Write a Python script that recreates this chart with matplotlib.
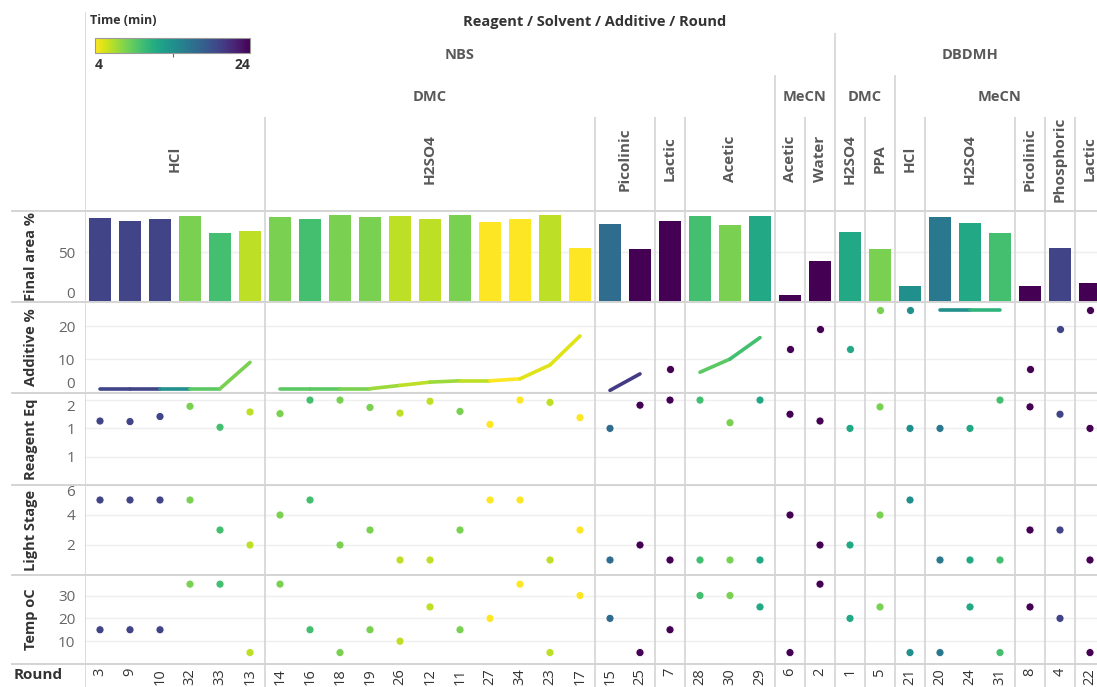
import itertools

import matplotlib
matplotlib.use("Agg")
import matplotlib.pyplot as plt
import numpy as np
from matplotlib.cm import ScalarMappable
from matplotlib.collections import LineCollection
from matplotlib.colors import Normalize
from matplotlib.lines import Line2D
from matplotlib.ticker import FuncFormatter

plt.rcParams["font.family"] = ["Open Sans", "DejaVu Sans"]

# 数据：每列一个 Round，按图中从左到右的顺序
rounds = [3, 9, 10, 32, 33, 13, 14, 16, 18, 19, 26, 12, 11, 27, 34, 23, 17,
          15, 25, 7, 28, 30, 29, 6, 2, 1, 5, 21, 20, 24, 31, 8, 4, 22]
reagents = ["NBS"] * 25 + ["DBDMH"] * 9
solvents = ["DMC"] * 23 + ["MeCN"] * 2 + ["DMC"] * 2 + ["MeCN"] * 7
additives = (["HCl"] * 6 + ["H2SO4"] * 11 + ["Picolinic"] * 2 + ["Lactic"] + ["Acetic"] * 3
             + ["Acetic", "Water", "H2SO4", "PPA", "HCl"] + ["H2SO4"] * 3
             + ["Picolinic", "Phosphoric", "Lactic"])
time_min = [20, 20, 20, 8, 10, 6, 8, 10, 8, 8, 6, 6, 8, 4, 4, 6, 4,
            17, 24, 24, 10, 8, 12, 24, 24, 12, 8, 14, 16, 12, 10, 24, 20, 24]
final_area = [84, 81, 83, 86, 69, 71, 85, 83, 87, 85, 86, 83, 87, 80, 83, 87, 54,
              78, 53, 81, 86, 77, 86, 7, 41, 70, 53, 16, 85, 79, 69, 16, 54, 19]
additive_pct = [1, 1, 1, 1, 1, 9, 1, 1, 1, 1, 2, 3, 3.4, 3.4, 4, 8.2, 17,
                0.5, 5.5, 7, 6, 10, 16.5, 13, 19, 13, 25, 25, 25, 25, 25, 7, 19, 25]
reagent_eq = [1.13, 1.12, 1.21, 1.39, 1.02, 1.29, 1.26, 1.5, 1.5, 1.37, 1.27, 1.48, 1.3,
              1.07, 1.5, 1.46, 1.19, 1.0, 1.41, 1.5, 1.5, 1.1, 1.5, 1.25, 1.13, 1.0, 1.38,
              1.0, 1.0, 1.0, 1.5, 1.38, 1.25, 1.0]
light_stage = [5, 5, 5, 5, 3, 2, 4, 5, 2, 3, 1, 1, 3, 5, 5, 1, 3,
               1, 2, 1, 1, 1, 1, 4, 2, 2, 4, 5, 1, 1, 1, 3, 3, 1]
temp_c = [15, 15, 15, 35, 35, 5, 35, 15, 5, 15, 10, 25, 15, 20, 35, 5, 30,
          20, 5, 15, 30, 30, 25, 5, 35, 20, 25, 5, 5, 25, 5, 25, 20, 5]

W, H = 1097, 687
X0, X1 = 85, 1105          # 面板左右边界（右侧列被截掉一部分）
SEP = "#d4d4d4"
GRID = "#efefef"
cmap = plt.get_cmap("viridis_r")
norm = Normalize(4, 24)

n = len(rounds)
xs = np.arange(n)
colors = [cmap(norm(t)) for t in time_min]

fig = plt.figure(figsize=(W / 100, H / 100), dpi=100)


def add_ax(top, bottom):
    ax = fig.add_axes([X0 / W, 1 - bottom / H, (X1 - X0) / W, (bottom - top) / H])
    ax.set_xlim(-0.5, n - 0.5)
    ax.patch.set_visible(False)
    for s in ax.spines.values():
        s.set_visible(False)
    return ax


# 分组边界：0=Reagent 1=Solvent 2=Additive
keys = list(zip(reagents, solvents, additives))
bounds = []
for i in range(1, n):
    if reagents[i] != reagents[i - 1]:
        bounds.append((i - 0.5, 0))
    elif solvents[i] != solvents[i - 1]:
        bounds.append((i - 0.5, 1))
    elif additives[i] != additives[i - 1]:
        bounds.append((i - 0.5, 2))
bounds.append((-0.5, -1))

# ---- 表头 ----
HEAD = 211
axh = add_ax(0, HEAD)
axh.set_ylim(HEAD, 0)
axh.set_xticks([])
axh.set_yticks([])
level_top = {-1: 12, 0: 33, 1: 75, 2: 117}
for x, lv in bounds:
    axh.vlines(x, level_top[lv], HEAD, color=SEP, lw=1.2)
axh.text((n - 1) / 2, 22, "Reagent / Solvent / Additive / Round", ha="center", va="center",
         fontsize=10.5, fontweight="bold", color="#333333")


def runs(labels):
    out, start = [], 0
    for key, grp in itertools.groupby(labels):
        k = len(list(grp))
        out.append((key, start, start + k - 1))
        start += k
    return out


for key, a, b in runs(reagents):
    axh.text((a + b) / 2, 55, key, ha="center", va="center", fontsize=10.5,
             fontweight="bold", color="#595959")
for key, a, b in runs(list(zip(reagents, solvents))):
    axh.text((a + b) / 2, 97, key[1], ha="center", va="center", fontsize=10.5,
             fontweight="bold", color="#595959")
for key, a, b in runs(keys):
    axh.text((a + b) / 2, 159, key[2], ha="center", va="center", rotation=90,
             fontsize=11, fontweight="bold", color="#595959")

# 颜色图例
cax = fig.add_axes([95 / W, 1 - 53 / H, 155 / W, 15 / H])
cb = fig.colorbar(ScalarMappable(norm=norm, cmap=cmap), cax=cax, orientation="horizontal")
cb.set_ticks([14])
cb.set_ticklabels([""])
cb.ax.tick_params(length=3, color="#666666")
cb.outline.set_edgecolor("#9a9a9a")
cax.text(0, -0.35, "4", transform=cax.transAxes, ha="left", va="top",
         fontsize=10, fontweight="bold", color="#333333")
cax.text(1, -0.35, "24", transform=cax.transAxes, ha="right", va="top",
         fontsize=10, fontweight="bold", color="#333333")
cax.text(-0.03, 2.2, "Time (min)", transform=cax.transAxes, ha="left", va="center",
         fontsize=9, fontweight="bold", color="#333333")

# ---- 五行面板 ----
rows = [(211, 302), (302, 393), (393, 485), (485, 575), (575, 664)]
axes = [add_ax(t, b) for t, b in rows]


def style(ax, label, ticks, lim, fmt=None, edge=None):
    ax.set_ylim(*lim)
    ax.set_yticks(ticks)
    if fmt is not None:
        ax.yaxis.set_major_formatter(FuncFormatter(fmt))
    ax.set_xticks([])
    ax.tick_params(axis="y", length=0, pad=7, labelsize=11, labelcolor="#666666")
    for t in ticks:
        ax.axhline(t, color=GRID, lw=1, zorder=0)
    for x, lv in bounds:
        ax.axvline(x, color=SEP, lw=1.2, zorder=1)
    ax.set_ylabel(label, fontsize=10.5, fontweight="bold", color="#333333")
    ax.yaxis.set_label_coords(-47 / (X1 - X0), 0.5)
    if edge:
        labels = ax.get_yticklabels()
        for idx, va in edge.items():
            labels[idx].set_va(va)


ax_area, ax_add, ax_eq, ax_light, ax_temp = axes

ax_area.bar(xs, final_area, width=0.74, color=colors, zorder=2)
style(ax_area, "Final area %", [0, 50], (0, 91), edge={0: "bottom"})

for key, a, b in runs(keys):
    if b > a:
        seg = [[(i, additive_pct[i]), (i + 1, additive_pct[i + 1])] for i in range(a, b)]
        segc = [cmap(norm((time_min[i] + time_min[i + 1]) / 2)) for i in range(a, b)]
        ax_add.add_collection(LineCollection(seg, colors=segc, linewidths=2.6,
                                             capstyle="round", zorder=3))
    else:
        ax_add.scatter([a], [additive_pct[a]], s=34, color=[colors[a]],
                       edgecolor="white", linewidth=0.6, zorder=3)
style(ax_add, "Additive %", [0, 10, 20], (-0.3, 27.3), edge={0: "bottom"})

ax_eq.scatter(xs, reagent_eq, s=34, color=colors, edgecolor="white", linewidth=0.6, zorder=3)
style(ax_eq, "Reagent Eq", [0.5, 1.0, 1.5], (0, 1.625),
      fmt=lambda v, p: f"{int(np.floor(v + 0.5))}", edge={2: "top"})

ax_light.scatter(xs, light_stage, s=34, color=colors, edgecolor="white", linewidth=0.6, zorder=3)
style(ax_light, "Light Stage", [2, 4, 6], (0, 6), edge={2: "top"})

ax_temp.scatter(xs, temp_c, s=34, color=colors, edgecolor="white", linewidth=0.6, zorder=3)
style(ax_temp, "Temp oC", [10, 20, 30], (0, 39))

# ---- Round 行 ----
axr = add_ax(664, H)
axr.set_ylim(H, 664)
axr.set_xticks([])
axr.set_yticks([])
for x, lv in bounds:
    axr.axvline(x, color=SEP, lw=1.2)
for i, r in enumerate(rounds):
    axr.text(i, 668, str(r), rotation=90, ha="center", va="top",
             fontsize=10.5, color="#333333")
fig.text(14 / W, 1 - 675 / H, "Round", ha="left", va="center", fontsize=11,
         fontweight="bold", color="#333333")

# 横向分隔线
for y in [211, 302, 393, 485, 575, 664]:
    fig.add_artist(Line2D([12 / W, 1], [1 - y / H, 1 - y / H], color=SEP, lw=1.4,
                          transform=fig.transFigure))

fig.savefig("out.png", dpi=100)
